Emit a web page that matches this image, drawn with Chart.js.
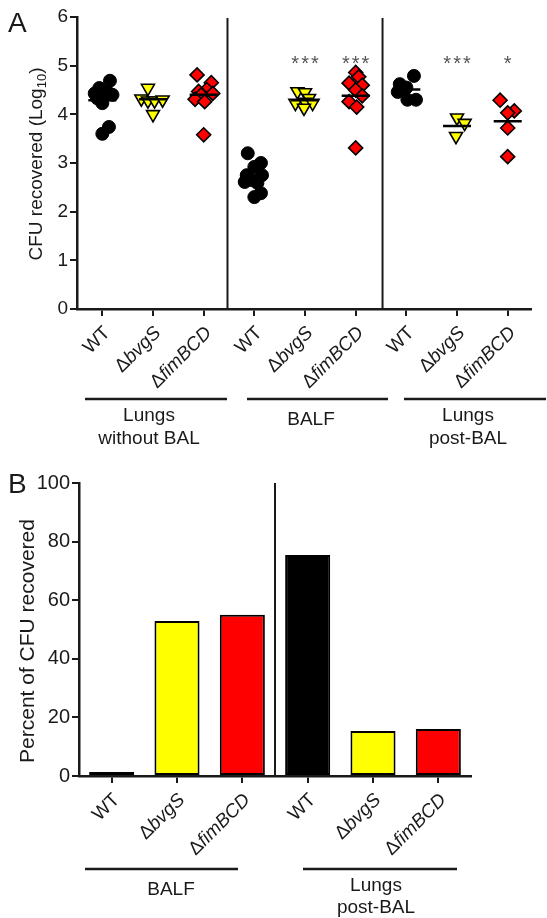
<!DOCTYPE html>
<html lang="en">
<head>
<meta charset="UTF-8">
<title>CFU recovered</title>
<script src="https://cdn.jsdelivr.net/npm/chart.js@4.4.0/dist/chart.umd.min.js"></script>
<style>
  body { margin: 0; background: #fff; }
  canvas { position: absolute; left: 0; }
</style>
</head>
<body>
<canvas id="panelA" width="547" height="460" style="top:0"></canvas>
<canvas id="panelB" width="547" height="458" style="top:460px"></canvas>
<script>
// ---- data, panel A (log10 CFU); each point is [x jitter, value] ----
const strainLabels = ['WT', 'ΔbvgS', 'ΔfimBCD'];
const sitesA = [['Lungs', 'without BAL'], ['BALF'], ['Lungs', 'post-BAL']];

const lungsWT = [[0.15, 4.69], [-0.06, 4.54], [-0.15, 4.43], [0.1, 4.46], [0.2, 4.40], [-0.1, 4.33], [0, 4.23], [0.13, 3.74], [0, 3.60]];
const lungsBvgS = [[-0.1, 4.54], [-0.23, 4.32], [-0.1, 4.28], [0.03, 4.28], [0.19, 4.30], [0, 4.00]];
const lungsFimBCD = [[-0.13, 4.81], [0.15, 4.65], [0.06, 4.51], [-0.1, 4.47], [0.18, 4.43], [-0.05, 4.40], [-0.17, 4.31], [0.02, 4.26], [0, 3.58]];
const balfWT = [[-0.13, 3.20], [0.13, 3.00], [0, 2.92], [-0.15, 2.75], [0.15, 2.75], [-0.05, 2.65], [-0.19, 2.61], [0.06, 2.59], [0, 2.30], [0.13, 2.38]];
const balfBvgS = [[-0.15, 4.47], [0, 4.45], [0.08, 4.33], [-0.19, 4.23], [0, 4.25], [0.15, 4.23], [-0.02, 4.13]];
const balfFimBCD = [[0, 4.86], [0.06, 4.77], [-0.13, 4.64], [0.13, 4.60], [0, 4.50], [0.13, 4.38], [-0.13, 4.26], [0.02, 4.15], [0, 3.31]];
const postWT = [[0.15, 4.79], [-0.13, 4.62], [0, 4.55], [-0.17, 4.46], [0.02, 4.30], [0.19, 4.30]];
const postBvgS = [[0, 3.93], [0.15, 3.82], [-0.02, 3.55]];
const postFimBCD = [[-0.15, 4.29], [0.13, 4.07], [0, 4.03], [0, 3.72], [0, 3.13]];

const meansA = [4.29, 4.31, 4.40, 2.73, 4.29, 4.38, 4.51, 3.76, 3.86];
const starsA = ['', '', '', '', '***', '***', '', '***', '*'];

// ---- data, panel B (percent of CFU recovered) ----
const sitesB = [['BALF'], ['Lungs', 'post-BAL']];
const percentRecovered = [1.4, 52.9, 55.0, 75.4, 15.4, 16.0];

const groupsA = [lungsWT, lungsBvgS, lungsFimBCD, balfWT, balfBvgS, balfFimBCD, postWT, postBvgS, postFimBCD];
const labelsA = sitesA.flatMap(() => strainLabels);
const labelsB = sitesB.flatMap(() => strainLabels);

const FONT = '"Liberation Sans", Arial, Helvetica, sans-serif';
const AXIS = '#1a1a1a';
const TEXT = '#1a1a1a';
const strainColors = ['#000000', '#ffff00', '#ff0000'];

function drawStrainLabel(ctx, label, x, y, size) {
  ctx.save();
  ctx.translate(x, y);
  ctx.rotate(-Math.PI / 4);
  ctx.textAlign = 'right';
  ctx.textBaseline = 'middle';
  ctx.fillStyle = TEXT;
  if (label[0] === 'Δ') {
    const gene = label.slice(1);
    ctx.font = `italic ${size}px ${FONT}`;
    ctx.fillText(gene, 0, 0);
    const w = ctx.measureText(gene).width;
    ctx.font = `${size}px ${FONT}`;
    ctx.fillText('Δ', -w, 0);
  } else {
    ctx.font = `${size}px ${FONT}`;
    ctx.fillText(label, 0, 0);
  }
  ctx.restore();
}

function drawGroup(ctx, lines, x1, x2, lineY, cx, baselines) {
  ctx.save();
  ctx.strokeStyle = AXIS;
  ctx.lineWidth = 2.5;
  ctx.beginPath();
  ctx.moveTo(x1, lineY);
  ctx.lineTo(x2, lineY);
  ctx.stroke();
  ctx.fillStyle = TEXT;
  ctx.font = `19px ${FONT}`;
  ctx.textAlign = 'center';
  ctx.textBaseline = 'alphabetic';
  lines.forEach((t, i) => ctx.fillText(t, cx, baselines[i]));
  ctx.restore();
}

function vline(ctx, x, y1, y2) {
  ctx.save();
  ctx.strokeStyle = AXIS;
  ctx.lineWidth = 2;
  ctx.beginPath();
  ctx.moveTo(x, y1);
  ctx.lineTo(x, y2);
  ctx.stroke();
  ctx.restore();
}

const annotA = {
  id: 'annotA',
  afterDraw(chart) {
    const {ctx, chartArea, scales: {x, y}} = chart;
    ctx.save();
    ctx.fillStyle = TEXT;
    ctx.font = `28px ${FONT}`;
    ctx.textBaseline = 'alphabetic';
    ctx.fillText('A', 8, 32);

    // y title with subscript
    ctx.translate(37, 164);
    ctx.rotate(-Math.PI / 2);
    ctx.textBaseline = 'middle';
    const main = 'CFU recovered (Log', sub = '10', tail = ')';
    ctx.font = `19px ${FONT}`;
    const wMain = ctx.measureText(main).width, wTail = ctx.measureText(tail).width;
    ctx.font = `13px ${FONT}`;
    const wSub = ctx.measureText(sub).width;
    let sx = -(wMain + wSub + wTail) / 2;
    ctx.font = `19px ${FONT}`;
    ctx.fillText(main, sx, 0);
    ctx.font = `13px ${FONT}`;
    ctx.fillText(sub, sx + wMain, 5);
    ctx.font = `19px ${FONT}`;
    ctx.fillText(tail, sx + wMain + wSub, 0);
    ctx.restore();

    vline(ctx, x.getPixelForValue(2.47), y.getPixelForValue(6) + 1, chartArea.bottom);
    vline(ctx, x.getPixelForValue(5.53), y.getPixelForValue(6) + 1, chartArea.bottom);

    labelsA.forEach((lab, i) => drawStrainLabel(ctx, lab, x.getPixelForValue(i) + 5, chartArea.bottom + 21, 19));

    ctx.save();
    ctx.fillStyle = '#555';
    ctx.font = `20px ${FONT}`;
    ctx.letterSpacing = '2px';
    ctx.textAlign = 'center';
    starsA.forEach((s, i) => { if (s) ctx.fillText(s, x.getPixelForValue(i) + 1, 70); });
    ctx.restore();

    drawGroup(ctx, sitesA[0], 85, 227, 399, 149, [421, 444]);
    drawGroup(ctx, sitesA[1], 247, 388, 399, 311, [425]);
    drawGroup(ctx, sitesA[2], 404, 546, 399, 468, [421, 444]);
  }
};

const annotB = {
  id: 'annotB',
  afterDraw(chart) {
    const {ctx, chartArea, scales: {x, y}} = chart;
    ctx.save();
    ctx.fillStyle = TEXT;
    ctx.font = `28px ${FONT}`;
    ctx.fillText('B', 8, 33);
    ctx.translate(28, 181);
    ctx.rotate(-Math.PI / 2);
    ctx.textAlign = 'center';
    ctx.textBaseline = 'middle';
    ctx.font = `21px ${FONT}`;
    ctx.fillText('Percent of CFU recovered', 0, 0);
    ctx.restore();

    vline(ctx, x.getPixelForValue(2.5), y.getPixelForValue(100), chartArea.bottom);

    labelsB.forEach((lab, i) => drawStrainLabel(ctx, lab, x.getPixelForValue(i) + 5, chartArea.bottom + 21, 19));

    drawGroup(ctx, sitesB[0], 85, 238, 409, 171, [435]);
    drawGroup(ctx, sitesB[1], 303, 457, 409, 376, [431, 453]);
  }
};

// ---- panel A ----
const scatterSets = strainLabels.map((name, s) => {
  const pts = [];
  sitesA.forEach((_, site) => {
    const g = site * 3 + s;
    groupsA[g].forEach(([dx, v]) => pts.push({x: g + dx, y: v}));
  });
  return {
    label: name,
    data: pts,
    pointStyle: ['circle', 'triangle', 'rectRot'][s],
    pointRotation: s === 1 ? 180 : 0,
    pointRadius: [6.5, 7.5, 7][s],
    pointBackgroundColor: strainColors[s],
    pointBorderColor: '#000',
    pointBorderWidth: s === 0 ? 1 : 1.6,
    showLine: false
  };
});

new Chart(document.getElementById('panelA'), {
  type: 'scatter',
  data: {
    datasets: [
      {
        label: 'mean',
        data: meansA.map((v, i) => ({x: i, y: v})),
        pointStyle: 'line',
        pointRadius: 14,
        pointBorderWidth: 2.5,
        pointBorderColor: '#000',
        showLine: false
      },
      ...scatterSets
    ]
  },
  options: {
    responsive: false,
    animation: false,
    events: [],
    layout: {padding: {top: 17, left: 0, right: 0, bottom: 151}},
    plugins: {legend: {display: false}, tooltip: {enabled: false}},
    scales: {
      x: {
        type: 'linear',
        min: -0.5,
        max: 8.45,
        afterBuildTicks: s => { s.ticks = labelsA.map((_, i) => ({value: i})); },
        afterFit: s => { s.height = 0; },
        grid: {drawOnChartArea: false, drawTicks: true, tickLength: 7, color: AXIS, lineWidth: 2},
        ticks: {display: false},
        border: {display: true, color: AXIS, width: 2.5}
      },
      y: {
        min: 0,
        max: 6,
        afterFit: s => { s.width = 77; },
        ticks: {stepSize: 1, color: TEXT, padding: 2, font: {family: FONT, size: 19}},
        grid: {drawOnChartArea: false, tickLength: 7, color: AXIS, lineWidth: 2},
        border: {color: AXIS, width: 2.5}
      }
    }
  },
  plugins: [annotA]
});

// ---- panel B ----
new Chart(document.getElementById('panelB'), {
  type: 'bar',
  data: {
    labels: labelsB,
    datasets: [{
      label: 'Percent of CFU recovered',
      data: percentRecovered,
      backgroundColor: labelsB.map((_, i) => strainColors[i % 3]),
      borderColor: '#000',
      borderWidth: 2,
      borderSkipped: false,
      barPercentage: 0.69,
      categoryPercentage: 1
    }]
  },
  options: {
    responsive: false,
    animation: false,
    events: [],
    layout: {padding: {top: 23, left: 0, right: 76, bottom: 142}},
    plugins: {legend: {display: false}, tooltip: {enabled: false}},
    scales: {
      x: {
        offset: true,
        afterFit: s => { s.height = 0; },
        grid: {offset: false, drawOnChartArea: false, drawTicks: true, tickLength: 7, color: AXIS, lineWidth: 2},
        ticks: {display: false},
        border: {display: true, color: AXIS, width: 2.5}
      },
      y: {
        min: 0,
        max: 100,
        afterFit: s => { s.width = 79; },
        ticks: {stepSize: 20, color: TEXT, padding: 2, font: {family: FONT, size: 20}},
        grid: {drawOnChartArea: false, tickLength: 7, color: AXIS, lineWidth: 2},
        border: {color: AXIS, width: 2.5}
      }
    }
  },
  plugins: [annotB]
});
</script>
</body>
</html>
